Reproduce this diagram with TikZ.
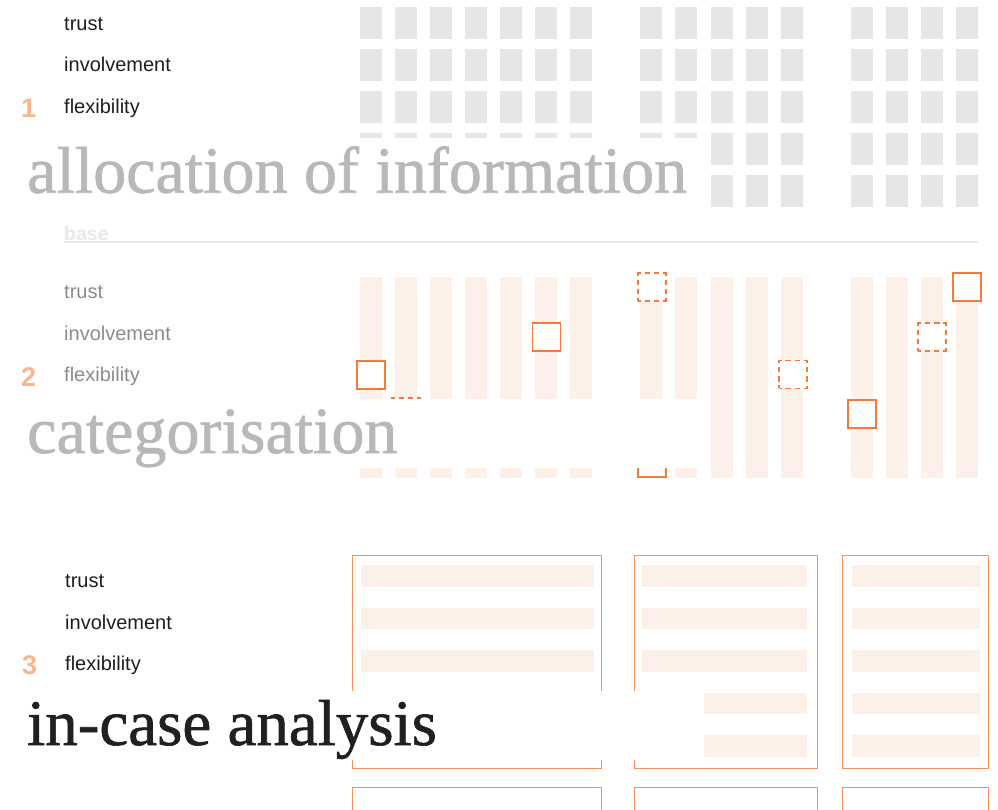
\documentclass[tikz,border=0pt]{standalone}
\usepackage{fontspec}
\setmainfont{Liberation Serif}
\newfontfamily\titlefont[FakeBold=1.0]{Liberation Serif}
\newfontfamily\labelfont{Liberation Sans}
\definecolor{cellgray}{HTML}{E5E6E8}
\definecolor{peach}{HTML}{FDF0E8}
\definecolor{markorange}{HTML}{F27B3C}
\definecolor{boxorange}{HTML}{F4935C}
\definecolor{numorange}{HTML}{F8B58E}
\definecolor{titlegray}{HTML}{B8B8B6}
\definecolor{titleblack}{HTML}{231F20}
\definecolor{labelgray}{HTML}{8C8C8C}
\definecolor{labelblack}{HTML}{1E1E1E}
\definecolor{basegray}{HTML}{E8E8E8}

\begin{document}
\begin{tikzpicture}[x=1pt,y=-1pt,
    rowlabel/.style={anchor=base west,inner sep=0pt,font=\labelfont\fontsize{20}{24}\selectfont},
    stepnum/.style={anchor=base west,inner sep=0pt,text=numorange,font=\labelfont\bfseries\fontsize{27}{30}\selectfont},
    titletext/.style={anchor=base west,inner sep=0pt,font=\titlefont\fontsize{66}{70}\selectfont},
    solidpick/.style={draw=markorange,fill=white,line width=1.6pt,minimum size=28pt,inner sep=0pt},
    dashpick/.style={solidpick,dash pattern=on 5.6pt off 3.73pt,dash phase=2.8pt}]
    \clip (0,0) rectangle (998,809);

    % 1: allocation of information
    \foreach \i in {0,1,2,3,4,5,6,8,9,10,11,12,14,15,16,17}
        \foreach \k in {0,...,4}
            \fill[cellgray] ({360+35.05*\i},{7+42*\k}) rectangle ++(22,32);
    \draw[basegray,line width=1.5pt] (64,242) -- (978,242);
    \node[rowlabel,text=basegray,font=\labelfont\bfseries\fontsize{19.5}{22}\selectfont]
        (base) at (64,240.5) {base};
    \fill[white] (0,138) rectangle (704,206.7);
    \node[titletext,text=titlegray] (alloc) at (27,192.7) {allocation of information};
    \foreach \lab/\y/\n in {trust/30/a,involvement/71.7/b,flexibility/113.3/c}
        \node[rowlabel,text=labelblack] (one\n) at (64,\y) {\lab};
    \node[stepnum] (num1) at (21,117.3) {1};

    % 2: categorisation
    \foreach \i in {0,1,2,3,4,5,6,8,9,10,11,12,14,15,16,17}
        \fill[peach] ({360+35.05*\i},277) rectangle ++(22,200.7);
    \node[solidpick] (sqa) at (370.7,374.8) {};
    \node[solidpick] (sqb) at (546.5,336.8) {};
    \node[solidpick] (sqc) at (861.7,413.7) {};
    \node[solidpick] (sqd) at (967.2,287) {};
    \node[solidpick] (sqe) at (652,462.8) {};
    \node[dashpick] (dsa) at (652,287) {};
    \node[dashpick] (dsb) at (792.7,374.3) {};
    \node[dashpick] (dsc) at (932,337) {};
    \node[dashpick] (dsd) at (406,412.2) {};
    \fill[white] (0,399) rectangle (704,467.7);
    \node[titletext,text=titlegray] (categ) at (27,453) {categorisation};
    \foreach \lab/\y/\n in {trust/298.3/a,involvement/340/b,flexibility/381.7/c}
        \node[rowlabel,text=labelgray] (two\n) at (64,\y) {\lab};
    \node[stepnum] (num2) at (21,386.7) {2};

    % 3: in-case analysis
    \foreach \xa/\xb in {352.7/601.7,634.3/817.7,842.7/988.7} {
        \draw[boxorange,line width=1.4pt] (\xa,555.3) rectangle (\xb,768.3);
        \draw[boxorange,line width=1.4pt] (\xa,787.3) rectangle (\xb,900);
    }
    \foreach \k in {0,1,2}
        \fill[peach] (361,{565+42.5*\k}) rectangle (594,{586.7+42.5*\k});
    \foreach \k in {0,...,4} {
        \fill[peach] (642,{565+42.5*\k}) rectangle (807,{586.7+42.5*\k});
        \fill[peach] (852,{565+42.5*\k}) rectangle (980,{586.7+42.5*\k});
    }
    \fill[white] (0,690.7) rectangle (704,760);
    \node[titletext,text=titleblack,font=\titlefont\fontsize{65}{70}\selectfont]
        (incase) at (27,745) {in-case analysis};
    \foreach \lab/\y/\n in {trust/587.3/a,involvement/629/b,flexibility/670.7/c}
        \node[rowlabel,text=labelblack] (three\n) at (65,\y) {\lab};
    \node[stepnum] (num3) at (22,674) {3};
\end{tikzpicture}
\end{document}
